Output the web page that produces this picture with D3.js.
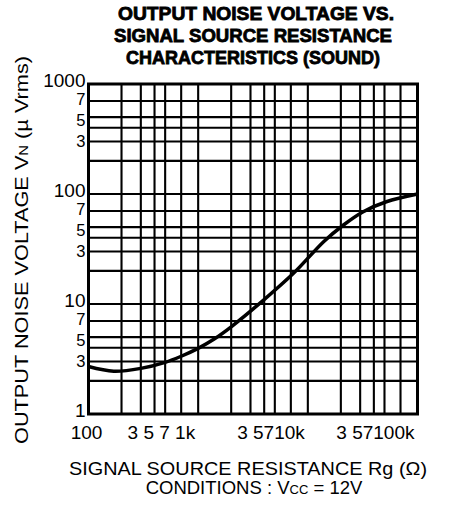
<!DOCTYPE html>
<html>
<head>
<meta charset="utf-8">
<script src="https://cdn.jsdelivr.net/npm/d3@7"></script>
<style>
  body { margin: 0; background: #fff; }
  svg { display: block; }
  text { font-family: "Liberation Sans", Arial, sans-serif; fill: #000; }
</style>
</head>
<body>
<div id="chart"></div>
<script>
// curve: signal source resistance (ohm) vs output noise (uVrms)
var resistance = [100, 170, 300, 500, 700, 1000, 1400, 2000, 3800, 7400, 14000, 21000, 32000, 52000, 100000];
var noise = [2.7, 2.45, 2.6, 2.95, 3.35, 3.95, 4.8, 6.2, 10.5, 19, 37, 52, 69, 85, 100];

// grid lines sit at 1, 2, 3, 4, 5, 7 of each decade
var gridSteps = [1, 2, 3, 4, 5, 7];

var yTickValues = [1, 3, 5, 7, 10, 30, 50, 70, 100, 300, 500, 700, 1000];
var yTickText = ["1", "3", "5", "7", "10", "3", "5", "7", "100", "3", "5", "7", "1000"];

var xTickValues = [100, 1000, 10000, 100000];
var xTickText = ["100", "3 5 7 1k", "3 5710k", "3 57100k"];

var titleLines = ["OUTPUT NOISE VOLTAGE VS.", "SIGNAL SOURCE RESISTANCE", "CHARACTERISTICS (SOUND)"];

var width = 458
var height = 506

var plot = { left: 88.5, right: 417.5, top: 84, bottom: 414 };

var svg = d3.select("#chart")
    .append("svg")
    .attr("width", width)
    .attr("height", height);

var x = d3.scaleLog()
    .domain([100, 100000])
    .range([plot.left, plot.right]);

var y = d3.scaleLog()
    .domain([1, 1000])
    .range([plot.bottom, plot.top]);

function gridValues(lo, hi) {
    var vals = [];
    for (var d = lo; d < hi; d *= 10) {
        gridSteps.forEach(function(s) {
            if (s * d > lo && s * d < hi) vals.push(s * d);
        });
    }
    return vals;
}

// grid
var grid = svg.append("g")
    .attr("stroke", "#000")
    .attr("stroke-width", 2.1);

grid.selectAll("line.v")
    .data(gridValues(100, 100000))
    .enter()
    .append("line")
    .attr("class", "v")
    .attr("x1", function(d) { return x(d); })
    .attr("x2", function(d) { return x(d); })
    .attr("y1", plot.top)
    .attr("y2", plot.bottom);

grid.selectAll("line.h")
    .data(gridValues(1, 1000))
    .enter()
    .append("line")
    .attr("class", "h")
    .attr("x1", plot.left)
    .attr("x2", plot.right)
    .attr("y1", function(d) { return y(d); })
    .attr("y2", function(d) { return y(d); });

// frame
svg.append("rect")
    .attr("x", plot.left)
    .attr("y", plot.top)
    .attr("width", plot.right - plot.left)
    .attr("height", plot.bottom - plot.top)
    .attr("fill", "none")
    .attr("stroke", "#000")
    .attr("stroke-width", 3);

// curve
var line = d3.line()
    .x(function(d, i) { return x(resistance[i]); })
    .y(function(d) { return y(d); })
    .curve(d3.curveCatmullRom.alpha(0.5));

svg.append("path")
    .datum(noise)
    .attr("d", line)
    .attr("fill", "none")
    .attr("stroke", "#000")
    .attr("stroke-width", 3.5);

// y tick labels
function isDecade(d, i) {
    return yTickText[i].length > 1 || d === 1;
}

// the hand-lettered 7s sit a bit high and the 5s a bit low
function minorShift(t) {
    if (t === "7") return -1.5;
    if (t === "5") return 2.5;
    return -0.5;
}

svg.append("g")
    .selectAll("text")
    .data(yTickValues)
    .enter()
    .append("text")
    .attr("x", plot.left - 3)
    .attr("y", function(d, i) {
        return isDecade(d, i) ? y(d) + 3 : y(d) + minorShift(yTickText[i]);
    })
    .attr("dy", function(d, i) { return isDecade(d, i) ? 0 : "0.36em"; })
    .attr("text-anchor", "end")
    .attr("font-size", function(d, i) { return isDecade(d, i) ? 19 : 16.5; })
    .text(function(d, i) { return yTickText[i]; });

// x tick labels (typed as a row, so the groups run together)
svg.append("g")
    .selectAll("text")
    .data(xTickValues)
    .enter()
    .append("text")
    .attr("xml:space", "preserve")
    .attr("x", function(d, i) { return i === 0 ? x(d) - 2 : x(d) - 3; })
    .attr("y", plot.bottom + 25)
    .attr("text-anchor", function(d, i) { return i === 0 ? "middle" : "end"; })
    .attr("font-size", 19)
    .text(function(d, i) { return xTickText[i]; });

// title
svg.append("g")
    .selectAll("text")
    .data(titleLines)
    .enter()
    .append("text")
    .attr("x", function(d, i) { return i === 0 ? 256 : 253; })
    .attr("y", function(d, i) { return 20 + i * 22; })
    .attr("text-anchor", "middle")
    .attr("font-size", 18)
    .attr("font-weight", "bold")
    .attr("stroke", "#000")
    .attr("stroke-width", 0.8)
    .attr("textLength", function(d, i) { return [276, 278, 254][i]; })
    .attr("lengthAdjust", "spacingAndGlyphs")
    .text(function(d) { return d; });

// x axis title
svg.append("text")
    .attr("x", 248)
    .attr("y", 475)
    .attr("text-anchor", "middle")
    .attr("font-size", 18.5)
    .attr("textLength", 358)
    .attr("lengthAdjust", "spacingAndGlyphs")
    .text("SIGNAL  SOURCE  RESISTANCE  Rg  (\u03A9)");

var cond = svg.append("text")
    .attr("x", 254)
    .attr("y", 494)
    .attr("text-anchor", "middle")
    .attr("font-size", 18.5);
cond.append("tspan").text("CONDITIONS : V");
cond.append("tspan").attr("font-size", 13).text("CC");
cond.append("tspan").text(" = 12V");

// y axis title
var yTitle = svg.append("text")
    .attr("transform", "translate(28,250) rotate(-90)")
    .attr("text-anchor", "middle")
    .attr("font-size", 19)
    .attr("textLength", 388)
    .attr("lengthAdjust", "spacingAndGlyphs");
yTitle.append("tspan").text("OUTPUT  NOISE  VOLTAGE  V");
yTitle.append("tspan").attr("font-size", 13).text("N");
yTitle.append("tspan").text("  (\u00B5 Vrms)");
</script>
</body>
</html>
